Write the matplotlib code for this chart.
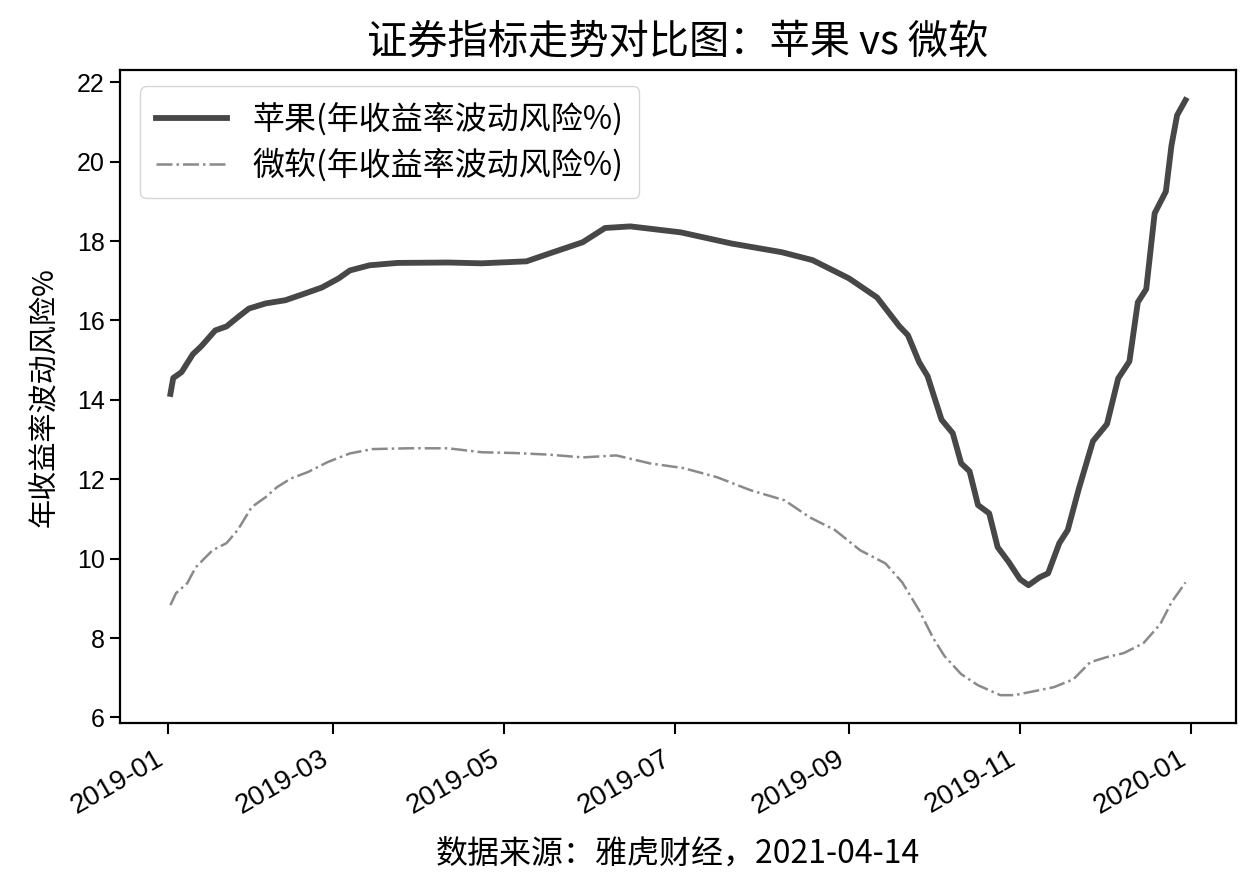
import matplotlib

matplotlib.use("Agg")
import matplotlib.dates as mdates
import matplotlib.pyplot as plt
import pandas as pd

plt.rcParams["font.family"] = ["Noto Sans CJK SC", "DejaVu Sans"]
plt.rcParams["axes.unicode_minus"] = False

# values (annualised volatility, %)
apple_dates = [
    "2019-01-02", "2019-01-03", "2019-01-06", "2019-01-10", "2019-01-13",
    "2019-01-18", "2019-01-22", "2019-01-26", "2019-01-30", "2019-02-05",
    "2019-02-12", "2019-02-19", "2019-02-25", "2019-03-03", "2019-03-07",
    "2019-03-14", "2019-03-24", "2019-04-11", "2019-04-23", "2019-05-09",
    "2019-05-16", "2019-05-29", "2019-06-06", "2019-06-15", "2019-07-03",
    "2019-07-21", "2019-08-08", "2019-08-19", "2019-09-01", "2019-09-11",
    "2019-09-19", "2019-09-22", "2019-09-26", "2019-09-29", "2019-10-04",
    "2019-10-08", "2019-10-11", "2019-10-14", "2019-10-17", "2019-10-21",
    "2019-10-24", "2019-10-28", "2019-11-01", "2019-11-04", "2019-11-08",
    "2019-11-11", "2019-11-15", "2019-11-18", "2019-11-22", "2019-11-27",
    "2019-12-02", "2019-12-06", "2019-12-10", "2019-12-13", "2019-12-16",
    "2019-12-19", "2019-12-23", "2019-12-25", "2019-12-27", "2019-12-30",
]
apple_vol = [
    14.15, 14.55, 14.70, 15.15, 15.35,
    15.75, 15.85, 16.08, 16.30, 16.43,
    16.51, 16.68, 16.83, 17.06, 17.26,
    17.39, 17.45, 17.46, 17.44, 17.49,
    17.66, 17.97, 18.33, 18.37, 18.22,
    17.94, 17.72, 17.52, 17.06, 16.58,
    15.85, 15.63, 14.95, 14.60, 13.50,
    13.16, 12.40, 12.20, 11.35, 11.14,
    10.29, 9.91, 9.48, 9.33, 9.53,
    9.63, 10.39, 10.72, 11.77, 12.96,
    13.39, 14.54, 14.97, 16.46, 16.79,
    18.70, 19.25, 20.41, 21.17, 21.55,
]

msft_dates = [
    "2019-01-02", "2019-01-04", "2019-01-08", "2019-01-11", "2019-01-17",
    "2019-01-22", "2019-01-26", "2019-01-31", "2019-02-05", "2019-02-09",
    "2019-02-14", "2019-02-20", "2019-02-27", "2019-03-07", "2019-03-15",
    "2019-03-28", "2019-04-11", "2019-04-23", "2019-05-05", "2019-05-17",
    "2019-05-29", "2019-06-10", "2019-06-22", "2019-07-04", "2019-07-16",
    "2019-07-28", "2019-08-09", "2019-08-18", "2019-08-27", "2019-09-05",
    "2019-09-14", "2019-09-20", "2019-09-26", "2019-10-01", "2019-10-05",
    "2019-10-11", "2019-10-17", "2019-10-25", "2019-10-30", "2019-11-06",
    "2019-11-13", "2019-11-20", "2019-11-26", "2019-12-02", "2019-12-08",
    "2019-12-15", "2019-12-21", "2019-12-25", "2019-12-30",
]
msft_vol = [
    8.83, 9.13, 9.38, 9.78, 10.21,
    10.39, 10.72, 11.30, 11.55, 11.80,
    12.02, 12.18, 12.43, 12.65, 12.76,
    12.78, 12.78, 12.68, 12.66, 12.62,
    12.55, 12.60, 12.40, 12.28, 12.05,
    11.72, 11.47, 11.04, 10.72, 10.21,
    9.88, 9.40, 8.70, 8.00, 7.55,
    7.09, 6.81, 6.56, 6.56, 6.66,
    6.76, 6.96, 7.39, 7.52, 7.62,
    7.87, 8.35, 8.90, 9.40,
]

title = "证券指标走势对比图：苹果 vs 微软"
apple_label = "苹果(年收益率波动风险%)"
msft_label = "微软(年收益率波动风险%)"
y_label = "年收益率波动风险%"
source_note = "数据来源：雅虎财经，2021-04-14"

fig = plt.figure(figsize=(12.52, 8.80), dpi=100)
ax = fig.add_axes([0.0958, 0.178, 0.8914, 0.742])

ax.plot(pd.to_datetime(apple_dates), apple_vol, color="#474747", lw=4.2,
        ls="-", label=apple_label, solid_joinstyle="round")
ax.plot(pd.to_datetime(msft_dates), msft_vol, color="#8a8a8a", lw=1.8,
        ls="-.", label=msft_label)

ax.set_xlim(pd.Timestamp("2018-12-15"), pd.Timestamp("2020-01-17"))
ax.set_ylim(5.85, 22.3)
ax.set_yticks(range(6, 23, 2))
ax.xaxis.set_major_locator(mdates.MonthLocator(bymonth=[1, 3, 5, 7, 9, 11]))
ax.xaxis.set_major_formatter(mdates.DateFormatter("%Y-%m"))

ax.tick_params(axis="x", length=8, width=1.5, pad=8)
ax.tick_params(axis="y", length=7, width=1.5, pad=4)

tick_font = ["Liberation Sans", "DejaVu Sans"]
for lab in ax.get_xticklabels():
    lab.set_rotation(30)
    lab.set_ha("right")
    lab.set_family(tick_font)
    lab.set_fontsize(20)
for lab in ax.get_yticklabels():
    lab.set_family(tick_font)
    lab.set_fontsize(18)

for sp in ax.spines.values():
    sp.set_linewidth(1.6)

ax.set_title(title, fontsize=29, pad=12)
ax.set_ylabel(y_label, fontsize=21, labelpad=12)
ax.set_xlabel(source_note, fontsize=23, labelpad=14)
ax.legend(loc="upper left", fontsize=23, handlelength=2.2, borderpad=0.5,
          labelspacing=0.4, bbox_to_anchor=(0.004, 1.0))

fig.savefig("out.png", dpi=100)
